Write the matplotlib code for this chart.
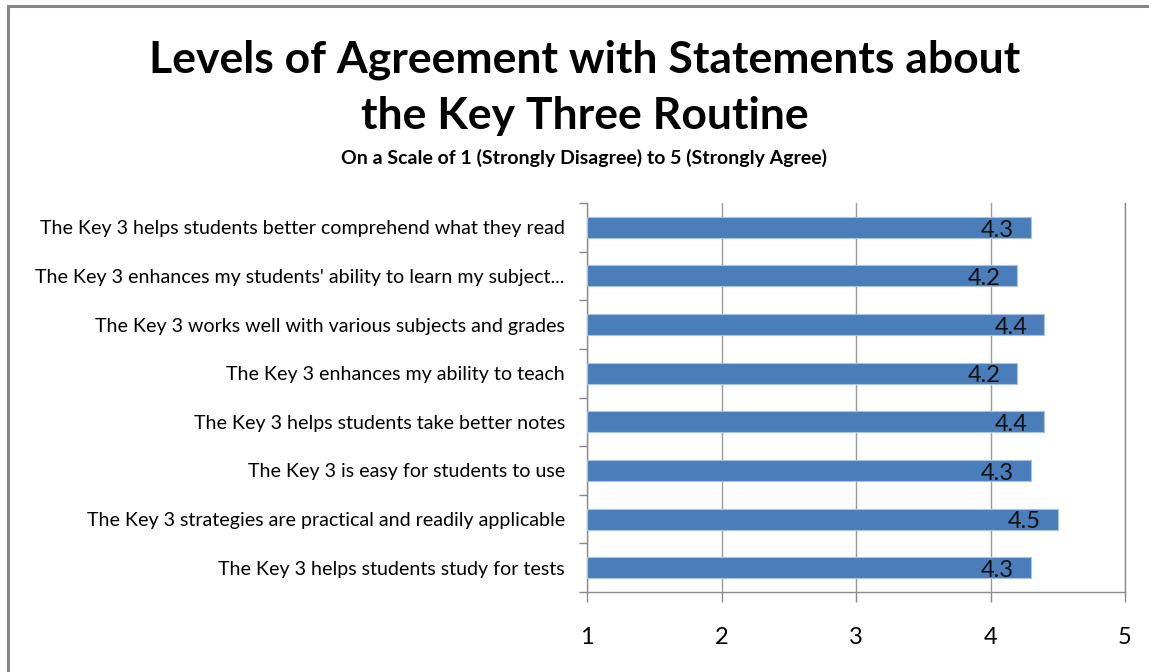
import matplotlib
matplotlib.use("Agg")
import matplotlib.pyplot as plt
from matplotlib.patches import Rectangle

plt.rcParams['font.family'] = ['Lato', 'DejaVu Sans']

# statements, top to bottom as shown
statements = [
    "The Key 3 helps students better comprehend what they read",
    "The Key 3 enhances my students' ability to learn my subject...",
    "The Key 3 works well with various subjects and grades",
    "The Key 3 enhances my ability to teach",
    "The Key 3 helps students take better notes",
    "The Key 3 is easy for students to use",
    "The Key 3 strategies are practical and readily applicable",
    "The Key 3 helps students study for tests",
]
scores = [4.3, 4.2, 4.4, 4.2, 4.4, 4.3, 4.5, 4.3]
x_ticks = [1, 2, 3, 4, 5]

W, H = 1149, 672
fig = plt.figure(figsize=(W / 100, H / 100), dpi=100)

# outer chart border (only left and top visible)
fig.patches.append(Rectangle((8 / W, -0.1), 1.2, 1 - 6 / H + 0.1,
                             transform=fig.transFigure, fill=False,
                             edgecolor="#868686", linewidth=2.2))

ax = fig.add_axes([587 / W, 1 - 592 / H, (1125 - 587) / W, (592 - 203) / H])

pos = list(range(len(statements)))[::-1]
widths = [s - 1 for s in scores]
ax.barh(pos, widths, left=1, height=0.43, color="#4A7EBB",
        edgecolor="#A9C2E2", linewidth=0.8, zorder=3)

for p, s in zip(pos, scores):
    ax.annotate(f"{s}", xy=(s, p), xytext=(-12, -2), textcoords="offset points",
                ha="right", va="center", fontsize=17, color="#111111", zorder=4)

ax.set_xlim(1, 5)
ax.set_ylim(-0.5, len(statements) - 0.5)
ax.set_xticks(x_ticks)
ax.set_xticklabels([str(t) for t in x_ticks], fontsize=17)
ax.set_yticks(pos)
ax.set_yticklabels(statements, fontsize=14.1)
ax.set_yticks([p + 0.5 for p in range(-1, len(statements))], minor=True)

ax.tick_params(axis="y", which="major", length=0, pad=16)
ax.tick_params(axis="y", which="minor", length=6, color="#888888", width=1)
ax.tick_params(axis="x", length=7, color="#888888", width=1, pad=18)

ax.grid(axis="x", color="#9A9A9A", linewidth=1, zorder=0)
ax.set_axisbelow(True)
ax.spines["top"].set_visible(False)
for side in ["left", "bottom", "right"]:
    ax.spines[side].set_color("#8C8C8C")
    ax.spines[side].set_linewidth(1)

fig.text(585 / W, 1 - 60 / H, "Levels of Agreement with Statements about",
         ha="center", va="center", fontsize=32, fontweight="bold")
fig.text(585 / W, 1 - 116 / H, "the Key Three Routine",
         ha="center", va="center", fontsize=32, fontweight="bold")
fig.text(584 / W, 1 - 158 / H, "On a Scale of 1 (Strongly Disagree) to 5 (Strongly Agree)",
         ha="center", va="center", fontsize=14, fontweight="bold")

fig.savefig("out.png", dpi=100)
